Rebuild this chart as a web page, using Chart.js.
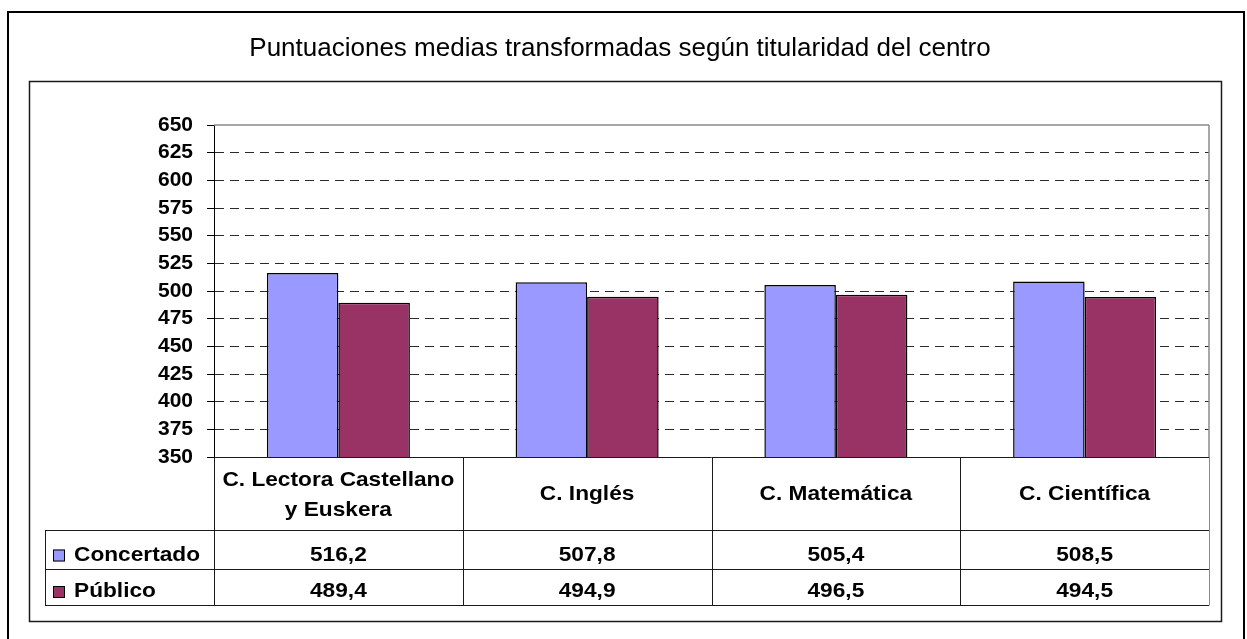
<!DOCTYPE html>
<html>
<head>
<meta charset="utf-8">
<script src="https://cdn.jsdelivr.net/npm/chart.js@4.4.0/dist/chart.umd.min.js"></script>
<style>
  html, body { margin: 0; padding: 0; background: #fff; }
  #wrap { width: 1247px; height: 639px; }
</style>
</head>
<body>
<div id="wrap"><canvas id="myChart" width="1247" height="639"></canvas></div>
<script>
var chartTitle = 'Puntuaciones medias transformadas según titularidad del centro';
var categories = [['C. Lectora Castellano', 'y Euskera'], 'C. Inglés', 'C. Matemática', 'C. Científica'];
var seriesNames = ['Concertado', 'Público'];
var concertado = [516.2, 507.8, 505.4, 508.5];
var publico = [489.4, 494.9, 496.5, 494.5];
var yMin = 350, yMax = 650, yStep = 25;

var boldFont = 'bold 21px "Liberation Sans", Arial, sans-serif';
var stretch = 1.08;

function fmt(v) {
    return v.toFixed(1).replace('.', ',');
}

function txt(ctx, s, x, y, align) {
    ctx.save();
    ctx.translate(x, y);
    ctx.scale(stretch, 1);
    ctx.textAlign = align;
    ctx.textBaseline = 'alphabetic';
    ctx.fillText(s, 0, 0);
    ctx.restore();
}

function line(ctx, x1, y1, x2, y2) {
    ctx.beginPath();
    ctx.moveTo(x1, y1);
    ctx.lineTo(x2, y2);
    ctx.stroke();
}

var frames = {
    id: 'frames',
    beforeDraw: function(chart) {
        var ctx = chart.ctx;
        ctx.save();
        ctx.fillStyle = '#fff';
        ctx.fillRect(0, 0, chart.width, chart.height);
        // outer border
        ctx.strokeStyle = '#000';
        ctx.lineWidth = 2;
        ctx.strokeRect(8, 12, 1236, 700);
        // inner frame
        ctx.lineWidth = 1.5;
        ctx.strokeStyle = '#1a1a1a';
        ctx.strokeRect(29.5, 81.5, 1192, 540);
        // title
        ctx.fillStyle = '#000';
        ctx.font = '26px "Liberation Sans", Arial, sans-serif';
        ctx.textAlign = 'center';
        ctx.textBaseline = 'alphabetic';
        ctx.fillText(chartTitle, 620, 56);
        ctx.restore();
    },
    afterDraw: function(chart) {
        var ctx = chart.ctx;
        var area = chart.chartArea;
        var x = chart.scales.x;
        var colW = (area.right - area.left) / categories.length;
        var top = area.bottom, r1 = 530, r2 = 569, r3 = 605, tLeft = 45;

        ctx.save();
        // plot area border (top and right)
        ctx.strokeStyle = '#8a8a8a';
        ctx.lineWidth = 1.5;
        line(ctx, area.left, area.top, area.right, area.top);
        line(ctx, area.right, area.top, area.right, area.bottom);

        // data table lines
        ctx.strokeStyle = '#1a1a1a';
        ctx.lineWidth = 1;
        line(ctx, area.left, top + 0.5, area.right, top + 0.5);
        [r1, r2, r3].forEach(function(y) {
            line(ctx, tLeft, y + 0.5, area.right, y + 0.5);
        });
        line(ctx, tLeft + 0.5, r1, tLeft + 0.5, r3);
        for (var i = 0; i <= categories.length; i++) {
            var bx = Math.round(area.left + i * colW) + 0.5;
            if (i === categories.length) ctx.strokeStyle = '#8a8a8a';
            line(ctx, bx, top, bx, r3 + 0.5);
        }

        // header and values
        ctx.fillStyle = '#000';
        ctx.font = boldFont;
        var data = [concertado, publico];
        categories.forEach(function(c, i) {
            var cx = x.getPixelForValue(i);
            if (Array.isArray(c)) {
                txt(ctx, c[0], cx, 486, 'center');
                txt(ctx, c[1], cx, 516, 'center');
            } else {
                txt(ctx, c, cx, 500, 'center');
            }
            txt(ctx, fmt(data[0][i]), cx, 560.5, 'center');
            txt(ctx, fmt(data[1][i]), cx, 597, 'center');
        });

        // legend keys
        var bases = [560.5, 597];
        chart.data.datasets.forEach(function(ds, k) {
            ctx.fillStyle = ds.backgroundColor;
            ctx.fillRect(53, bases[k] - 11, 12, 12);
            ctx.strokeStyle = '#000';
            ctx.strokeRect(53.5, bases[k] - 10.5, 11, 11);
            ctx.fillStyle = '#000';
            txt(ctx, seriesNames[k], 74, bases[k], 'left');
        });
        ctx.restore();
    }
};

var ctx = document.getElementById('myChart').getContext('2d');
var myChart = new Chart(ctx, {
    type: 'bar',
    data: {
        labels: categories,
        datasets: [{
            label: seriesNames[0],
            data: concertado,
            backgroundColor: '#9999FF',
            borderColor: '#000',
            borderWidth: 1.5,
            borderSkipped: false
        }, {
            label: seriesNames[1],
            data: publico,
            backgroundColor: '#993366',
            borderColor: '#000',
            borderWidth: 1.5,
            borderSkipped: false
        }]
    },
    options: {
        responsive: false,
        animation: false,
        devicePixelRatio: 1,
        layout: { padding: { top: 125, right: 38, bottom: 182, left: 0 } },
        datasets: { bar: { categoryPercentage: 0.575, barPercentage: 1 } },
        plugins: {
            legend: { display: false },
            title: { display: false },
            tooltip: { enabled: false }
        },
        scales: {
            x: { display: false },
            y: {
                min: yMin,
                max: yMax,
                afterFit: function(scale) { scale.width = 214; },
                ticks: {
                    stepSize: yStep,
                    autoSkip: false,
                    color: '#000',
                    padding: 14,
                    font: { family: '"Liberation Sans", Arial, sans-serif', size: 21, weight: 'bold' }
                },
                grid: {
                    color: function(c) {
                        return (c.tick && (c.tick.value === yMin || c.tick.value === yMax)) ? 'rgba(0,0,0,0)' : '#2a2a2a';
                    },
                    tickColor: '#000',
                    tickLength: 7,
                    lineWidth: 1
                },
                border: { display: true, color: '#000', width: 1, dash: [9, 6] }
            }
        }
    },
    plugins: [frames]
});
</script>
</body>
</html>
